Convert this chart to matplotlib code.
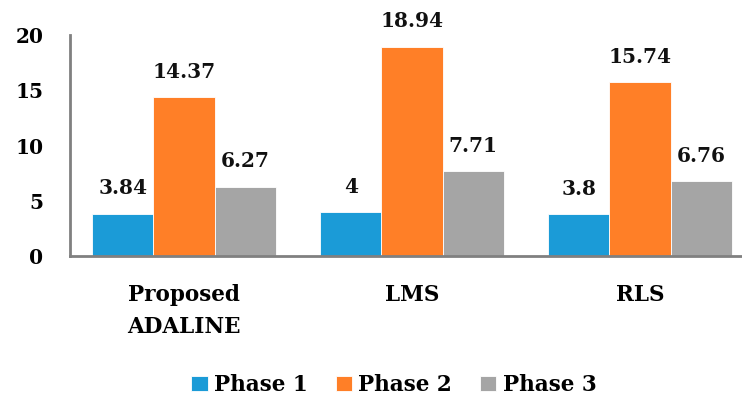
import matplotlib
matplotlib.use("Agg")
import matplotlib.pyplot as plt
import numpy as np

categories = ["Proposed\nADALINE", "LMS", "RLS"]
series_names = ["Phase 1", "Phase 2", "Phase 3"]
phase1 = [3.84, 4, 3.8]
phase2 = [14.37, 18.94, 15.74]
phase3 = [6.27, 7.71, 6.76]
value_labels = [["3.84", "4", "3.8"], ["14.37", "18.94", "15.74"], ["6.27", "7.71", "6.76"]]
colors = ["#1B9BD7", "#FF7F27", "#A5A5A5"]
yticks = [0, 5, 10, 15, 20]

plt.rcParams['font.family'] = ['DejaVu Serif']
plt.rcParams['font.weight'] = 'bold'

fig = plt.figure(figsize=(7.42, 4.01), dpi=100)
ax = fig.add_axes([70/742, 145/401, 684/742, 221/401])

x = np.arange(len(categories))
w = 0.268
for i, (vals, name, c) in enumerate(zip([phase1, phase2, phase3], series_names, colors)):
    bars = ax.bar(x + (i - 1) * w, vals, w, color=c, label=name, edgecolor='white', linewidth=0.6)
    for b, lab in zip(bars, value_labels[i]):
        ax.annotate(lab, (b.get_x() + b.get_width() / 2, b.get_height()),
                    xytext=(0, 11), textcoords='offset points', ha='center', va='bottom',
                    fontsize=14.5, fontweight='bold', color='#111111')

ax.set_xlim(-0.5, 2.5)
ax.set_ylim(0, 20)
ax.set_yticks(yticks)
ax.set_yticklabels([str(t) for t in yticks], fontsize=14.5, fontweight='bold')
ax.set_xticks(x)
ax.set_xticklabels(categories, fontsize=15.5, fontweight='bold', linespacing=1.6)
ax.tick_params(axis='both', length=0)
ax.tick_params(axis='x', pad=20)
ax.tick_params(axis='y', pad=19)
for s in ['top', 'right']:
    ax.spines[s].set_visible(False)
for s in ['left', 'bottom']:
    ax.spines[s].set_color('#808080')
    ax.spines[s].set_linewidth(2)

leg = fig.legend(loc='center', bbox_to_anchor=(394/742, (401-385)/401), ncol=3, frameon=False,
                 handlelength=0.75, handleheight=0.75, handletextpad=0.3, columnspacing=1.3,
                 prop={'weight': 'bold', 'size': 15.5, 'family': 'DejaVu Serif'})

fig.savefig("out.png", dpi=100)
